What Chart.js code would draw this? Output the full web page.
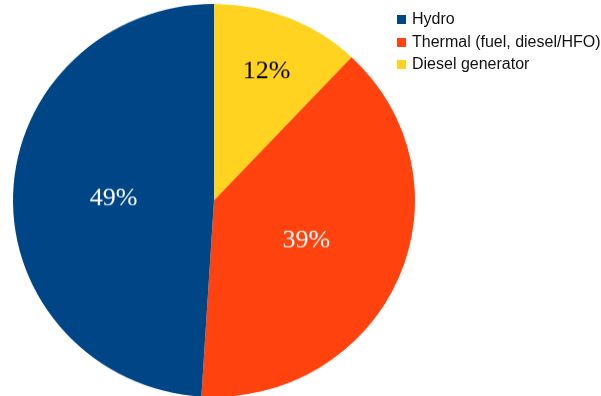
<!DOCTYPE html>
<html>
<head>
<meta charset="utf-8">
<script src="https://cdn.jsdelivr.net/npm/chart.js@4/dist/chart.umd.min.js"></script>
<style>
  html, body { margin: 0; padding: 0; background: #fff; overflow: hidden; width: 601px; height: 396px; }
  #wrap { position: absolute; left: 0; top: 0; width: 601px; height: 410px; transform: scaleY(0.9776); transform-origin: 0 0; }
  #legend { position: absolute; left: 397px; top: 8px; font-family: "Liberation Sans", Arial, sans-serif; font-size: 16px; color: #111; }
  #legend .row { height: 22.5px; line-height: 22.5px; white-space: nowrap; position: relative; }
  #legend .box { position: absolute; left: 0; top: 7px; width: 9px; height: 9px; }
  #legend .txt { position: absolute; left: 15px; top: 0; }
</style>
</head>
<body>
<div id="wrap"><canvas id="c" width="601" height="410"></canvas></div>
<div id="legend"></div>
<script>
// Share of electricity generation by source (percent)
const categories = ["Hydro", "Thermal (fuel, diesel/HFO)", "Diesel generator"];
const shares = [49, 39, 12];
const colors = ["#004586", "#ff420e", "#ffd320"];
const labelColors = ["#ffffff", "#ffffff", "#000000"];

const total = shares.reduce((a, b) => a + b, 0);
// Slices run counter-clockwise from twelve o'clock in legend order,
// so the pie gets the series in reverse (Chart.js draws clockwise).
const rev = (arr) => arr.slice().reverse();
const pieShares = rev(shares);
const pieColors = rev(colors);
const pieLabelColors = rev(labelColors);

// Percentage labels placed inside each slice
const sliceLabels = {
  id: "sliceLabels",
  afterDatasetsDraw(chart) {
    const ctx = chart.ctx;
    const meta = chart.getDatasetMeta(0);
    ctx.save();
    ctx.font = "26px 'Liberation Serif', 'Times New Roman', serif";
    ctx.textAlign = "center";
    ctx.textBaseline = "middle";
    meta.data.forEach((arc, i) => {
      const p = arc.getProps(["x", "y", "startAngle", "endAngle", "outerRadius"], true);
      const mid = (p.startAngle + p.endAngle) / 2;
      const frac = pieShares[i] / total < 0.2 ? 0.71 : 0.5;
      const r = p.outerRadius * frac;
      ctx.fillStyle = pieLabelColors[i];
      ctx.fillText(pieShares[i] + "%", p.x + Math.cos(mid) * r, p.y + Math.sin(mid) * r + 1);
    });
    ctx.restore();
  }
};

new Chart(document.getElementById("c"), {
  type: "pie",
  data: {
    labels: rev(categories),
    datasets: [{
      data: pieShares,
      backgroundColor: pieColors,
      borderWidth: 0,
      hoverOffset: 0
    }]
  },
  options: {
    responsive: false,
    animation: false,
    rotation: 0,
    layout: { padding: { left: 13, right: 186, top: 4, bottom: 4 } },
    plugins: {
      legend: { display: false },
      tooltip: { enabled: false }
    }
  },
  plugins: [sliceLabels]
});

// Legend beside the pie
const legend = document.getElementById("legend");
categories.forEach((name, i) => {
  const row = document.createElement("div");
  row.className = "row";
  const box = document.createElement("span");
  box.className = "box";
  box.style.background = colors[i];
  const txt = document.createElement("span");
  txt.className = "txt";
  txt.textContent = name;
  row.appendChild(box);
  row.appendChild(txt);
  legend.appendChild(row);
});
</script>
</body>
</html>
